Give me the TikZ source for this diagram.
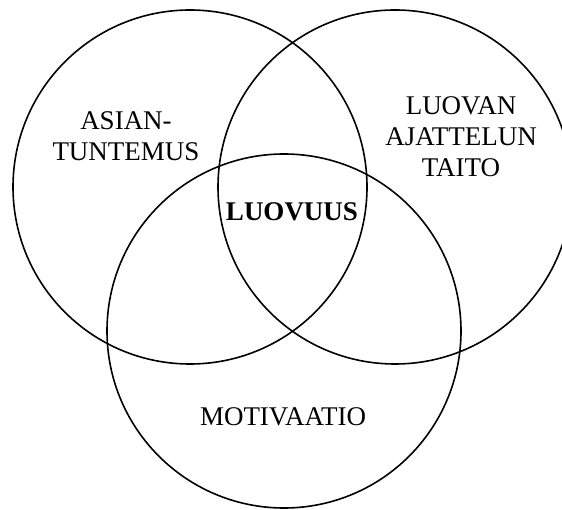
\documentclass[tikz,border=0pt]{standalone}
\usepackage{fontspec}
\setmainfont{Liberation Serif}
\begin{document}
\begin{tikzpicture}[x=1pt,y=-1pt,
  ring/.style={draw=black,line width=1.6pt},
  lbl/.style={inner sep=0pt,align=center,font=\fontsize{27}{31}\selectfont}]
\useasboundingbox (0,0) rectangle (562,510);
\clip (0,0) rectangle (562,510);
\fill[white] (0,0) rectangle (562,510);
\node[ring,circle,minimum size=354pt,inner sep=0pt] (A) at (190,187) {};
\node[ring,circle,minimum size=354pt,inner sep=0pt] (B) at (395,187) {};
\node[ring,circle,minimum size=354pt,inner sep=0pt] (C) at (284,331) {};
\node[lbl] (asian) at (126,136) {ASIAN-\\TUNTEMUS};
\node[lbl] (luovan) at (461,136.5) {LUOVAN\\AJATTELUN\\TAITO};
\node[lbl,font=\fontsize{27}{31}\selectfont\bfseries] (luovuus) at (292,212) {LUOVUUS};
\node[lbl] (moti) at (283,417) {MOTIVAATIO};
\end{tikzpicture}
\end{document}
